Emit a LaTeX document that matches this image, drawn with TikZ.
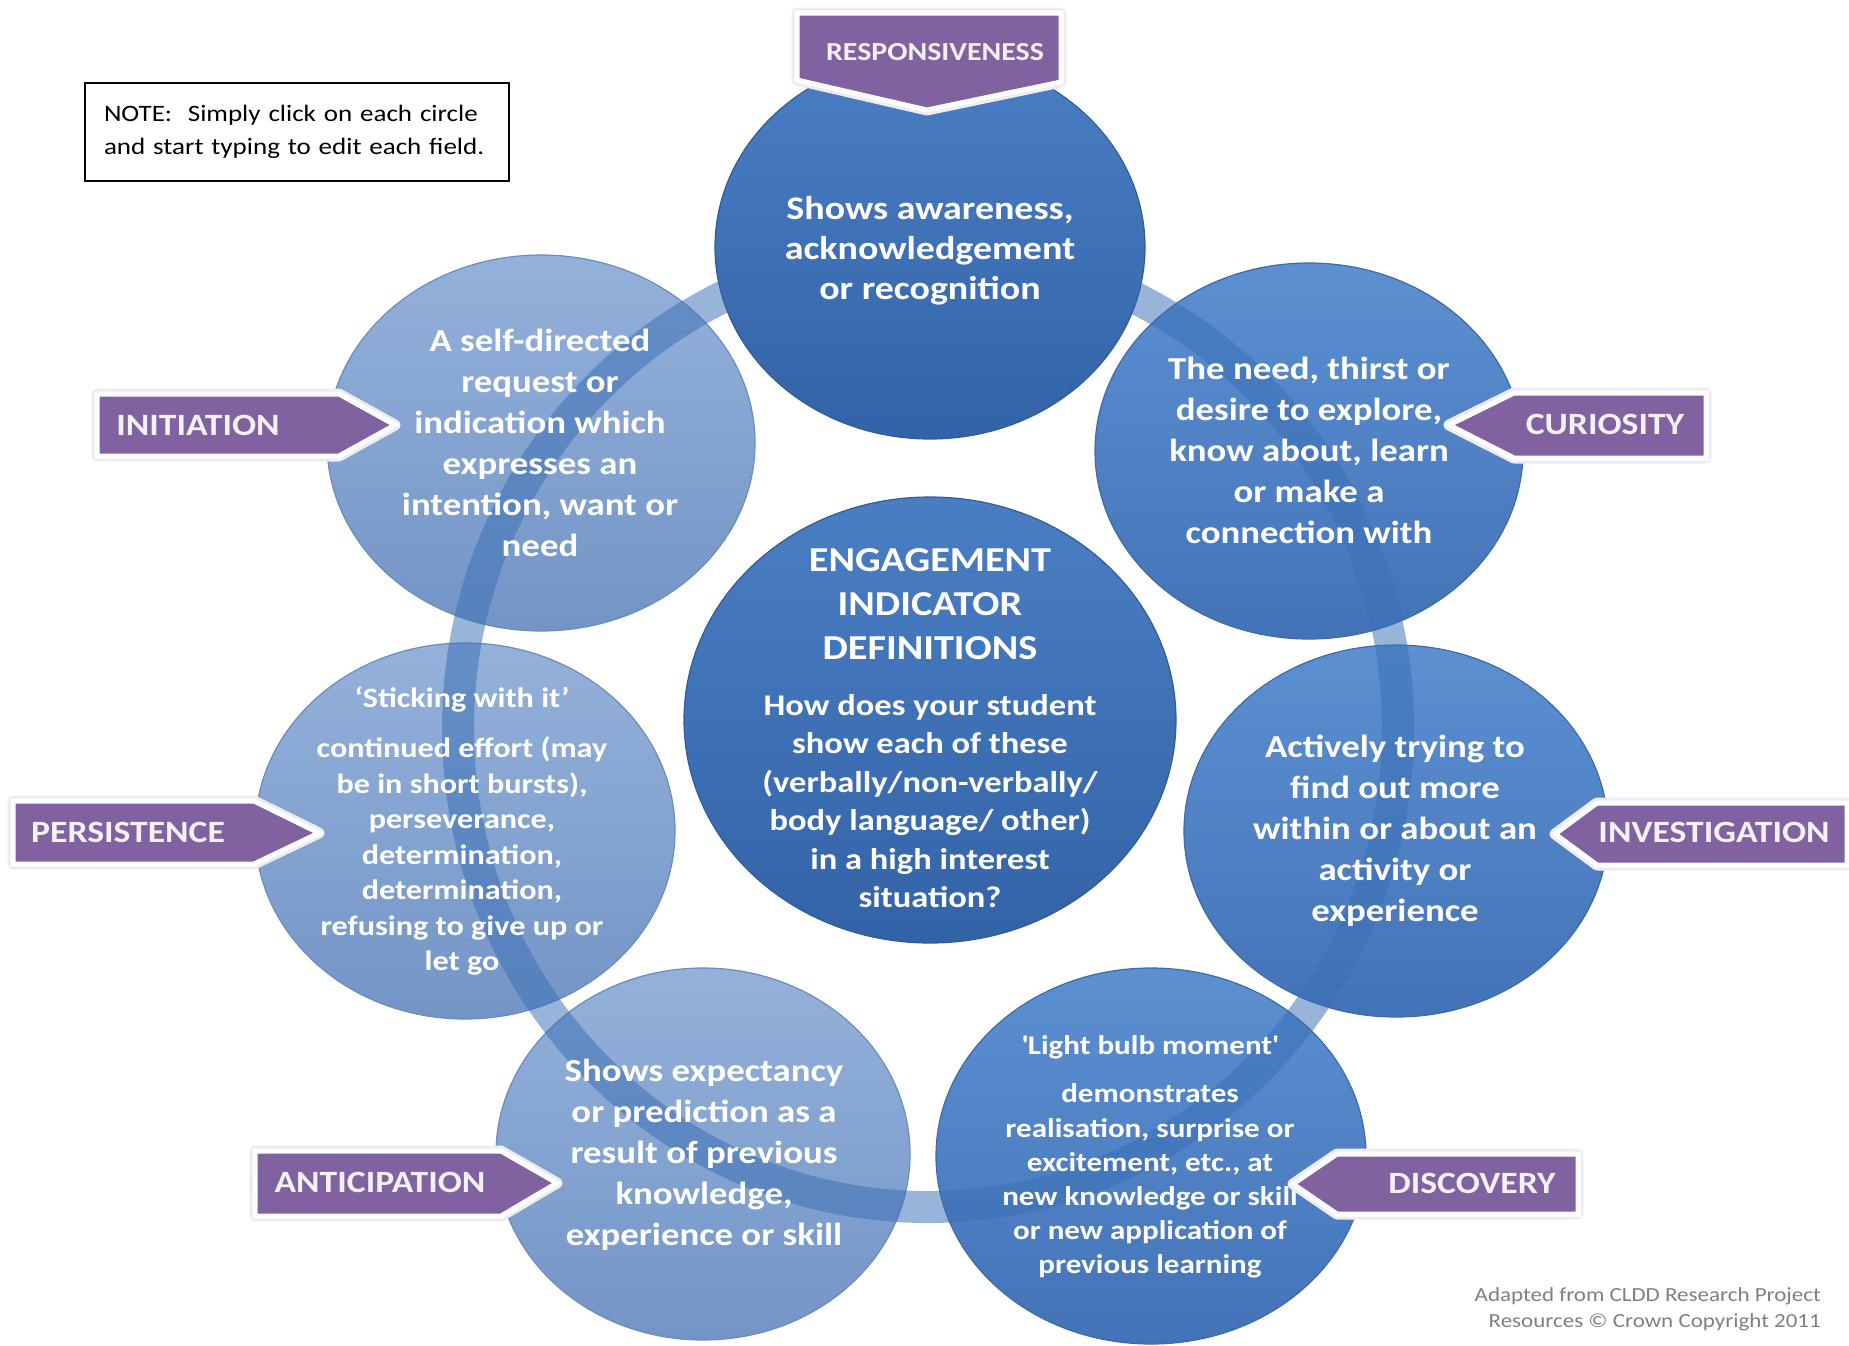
\documentclass[tikz,border=0pt]{standalone}
\usepackage{fontspec}
\setmainfont{Carlito}[FakeStretch=1.15]
\usetikzlibrary{shapes.geometric}
\definecolor{lblpurple}{HTML}{8062A0}
\definecolor{lbltext}{HTML}{F4F0F8}
\definecolor{lblglow}{HTML}{EEECF2}
\definecolor{darkA}{HTML}{4A7EC3}
\definecolor{darkB}{HTML}{3363A7}
\definecolor{darkE}{HTML}{2F5D9C}
\definecolor{midA}{HTML}{5C90D1}
\definecolor{midB}{HTML}{4373B7}
\definecolor{midE}{HTML}{3D6AAA}
\definecolor{paleA}{HTML}{94B1DA}
\definecolor{paleB}{HTML}{7395C6}
\definecolor{paleE}{HTML}{6A8CBF}
\definecolor{ringblue}{HTML}{3A6FB5}
\definecolor{notegray}{HTML}{7F7F7F}
\begin{document}
\begin{tikzpicture}[x=1pt,y=-1pt,
  pale/.style={ellipse, inner sep=0pt, top color=paleA, bottom color=paleB, draw=paleE, line width=1.2pt},
  mid/.style={ellipse, inner sep=0pt, top color=midA, bottom color=midB, draw=midE, line width=1.2pt},
  dark/.style={ellipse, inner sep=0pt, top color=darkA, bottom color=darkB, draw=darkE, line width=1.2pt},
  ctxt/.style={text=white, align=center, inner sep=0pt},
  ringband/.style={draw=ringblue, draw opacity=0.52, line width=32pt},
  lglow/.style={draw=lblglow, line width=11pt, line join=round},
  lshape/.style={fill=lblpurple, draw=white, line width=5pt, line join=miter},
  ltxt/.style={text=lbltext, inner sep=0pt, font=\bfseries\fontsize{31}{36}\selectfont}
]
\useasboundingbox (0,0) rectangle (1849,1345);

% outer circles
\node[pale, minimum width=428pt, minimum height=376pt] (init) at (541,443) {};
\node[pale, minimum width=420pt, minimum height=376pt] (pers) at (465,831) {};
\node[pale, minimum width=414pt, minimum height=372pt] (anti) at (703,1154) {};
\node[mid, minimum width=428pt, minimum height=376pt] (curi) at (1309,451) {};
\node[mid, minimum width=424pt, minimum height=372pt] (inve) at (1396,831) {};
\node[mid, minimum width=430pt, minimum height=376pt] (disc) at (1151,1156) {};

% ring
\coordinate (ringc) at (928,728);
\draw[ringband] (ringc) ellipse [x radius=470, y radius=479];

% top and centre circles
\node[dark, minimum width=430pt, minimum height=384pt] (resp) at (930,247) {};
\node[dark, minimum width=492pt, minimum height=446pt] (cent) at (930,720) {};

% circle texts
\node[ctxt, font=\bfseries\fontsize{33}{40}\selectfont] (respT) at (930,251)
  {Shows awareness,\\acknowledgement\\or recognition};
\node[ctxt, font=\bfseries\fontsize{32}{41}\selectfont] (initT) at (540,443)
  {A self-directed\\request or\\indication which\\expresses an\\intention, want or\\need};
\node[ctxt, font=\bfseries\fontsize{32}{41}\selectfont] (curiT) at (1309,450)
  {The need, thirst or\\desire to explore,\\know about, learn\\or make a\\connection with};
\node[ctxt, font=\bfseries\fontsize{35}{44}\selectfont] (centH) at (930,604)
  {ENGAGEMENT\\INDICATOR\\DEFINITIONS};
\node[ctxt, font=\bfseries\fontsize{30}{38.5}\selectfont] (centT) at (930,801)
  {How does your student\\show each of these\\(verbally/non-verbally/\\body language/ other)\\in a high interest\\situation?};
\node[ctxt, font=\bfseries\fontsize{28}{35.5}\selectfont] (persT) at (462,831)
  {‘Sticking with it’\\[15pt]continued effort (may\\be in short bursts),\\perseverance,\\determination,\\determination,\\refusing to give up or\\let go};
\node[ctxt, font=\bfseries\fontsize{32}{41}\selectfont] (inveT) at (1395,831)
  {Actively trying to\\find out more\\within or about an\\activity or\\experience};
\node[ctxt, font=\bfseries\fontsize{32}{41}\selectfont] (antiT) at (704,1155)
  {Shows expectancy\\or prediction as a\\result of previous\\knowledge,\\experience or skill};
\node[ctxt, font=\bfseries\fontsize{27}{34.2}\selectfont] (discT) at (1150,1157)
  {\textquotesingle Light bulb moment\textquotesingle\\[14pt]demonstrates\\realisation, surprise or\\excitement, etc., at\\new knowledge or skill\\or new application of\\previous learning};

% labels: glow
\path[lglow] (797,13) -- (1061,13) -- (1061,82) -- (927,110) -- (797,80) -- cycle;
\path[lglow] (97,394) -- (339,394) -- (395,425) -- (339,456) -- (97,456) -- cycle;
\path[lglow] (1449,425) -- (1514,393) -- (1706,393) -- (1706,458) -- (1514,458) -- cycle;
\path[lglow] (13,801) -- (254,801) -- (319,833) -- (254,864) -- (13,864) -- cycle;
\path[lglow] (255,1151) -- (501,1151) -- (557,1183) -- (501,1216) -- (255,1216) -- cycle;
\path[lglow] (1555,834) -- (1597,803) -- (1847,803) -- (1847,865) -- (1597,865) -- cycle;
\path[lglow] (1293,1184) -- (1337,1154) -- (1578,1154) -- (1578,1214) -- (1337,1214) -- cycle;
% labels: shapes
\path[lshape] (797,13) -- (1061,13) -- (1061,82) -- (927,110) -- (797,80) -- cycle;
\path[lshape] (97,394) -- (339,394) -- (395,425) -- (339,456) -- (97,456) -- cycle;
\path[lshape] (1449,425) -- (1514,393) -- (1706,393) -- (1706,458) -- (1514,458) -- cycle;
\path[lshape] (13,801) -- (254,801) -- (319,833) -- (254,864) -- (13,864) -- cycle;
\path[lshape] (255,1151) -- (501,1151) -- (557,1183) -- (501,1216) -- (255,1216) -- cycle;
\path[lshape] (1555,834) -- (1597,803) -- (1847,803) -- (1847,865) -- (1597,865) -- cycle;
\path[lshape] (1293,1184) -- (1337,1154) -- (1578,1154) -- (1578,1214) -- (1337,1214) -- cycle;
% labels: text
\node[ltxt, font=\bfseries\fontsize{26}{30}\selectfont] (respL) at (935,52) {RESPONSIVENESS};
\node[ltxt] (initL) at (198,425) {INITIATION};
\node[ltxt] (curiL) at (1605,424) {CURIOSITY};
\node[ltxt] (persL) at (128,832) {PERSISTENCE};
\node[ltxt] (antiL) at (380,1182) {ANTICIPATION};
\node[ltxt] (inveL) at (1714,832) {INVESTIGATION};
\node[ltxt] (discL) at (1472,1183) {DISCOVERY};

% note box
\node[draw=black, line width=2pt, anchor=north west, minimum width=424pt, minimum height=98pt,
  text width=386pt, inner xsep=19pt, align=left, font=\fontsize{23.5}{33}\selectfont] (note) at (84,82)
  {NOTE:~ Simply click on each circle\\and start typing to edit each field.};

% copyright
\node[anchor=east, align=right, inner sep=0pt, text=notegray, font=\fontsize{20}{26}\selectfont] (copy) at (1821,1309)
  {Adapted from CLDD Research Project\\Resources © Crown Copyright 2011};
\end{tikzpicture}
\end{document}
